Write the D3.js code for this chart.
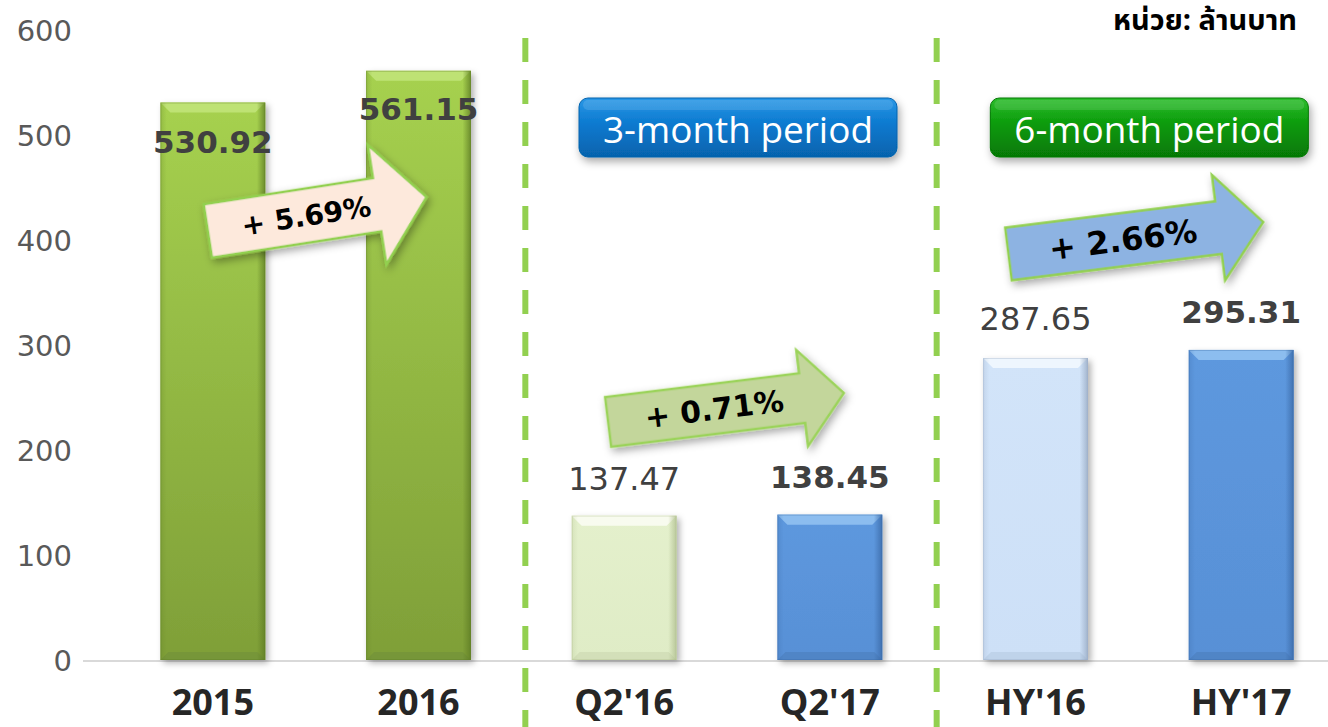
<!DOCTYPE html>
<html>
<head>
<meta charset="utf-8">
<script src="https://cdn.jsdelivr.net/npm/d3@7"></script>
<style>
  html, body { margin: 0; padding: 0; background: #fff; }
  svg { display: block; }
</style>
</head>
<body>
<svg id="chart" width="1328" height="727"></svg>
<script>
"use strict";
// chart values
const categories = ["2015", "2016", "Q2'16", "Q2'17", "HY'16", "HY'17"];
const values = [530.92, 561.15, 137.47, 138.45, 287.65, 295.31];
const valueLabels = ["530.92", "561.15", "137.47", "138.45", "287.65", "295.31"];
const boldLabel = [true, true, false, true, false, true];
const barTheme = ["green", "green", "lightGreen", "blue", "lightBlue", "blue"];
const yTicks = [0, 100, 200, 300, 400, 500, 600];
const groups = [["2015", "2016"], ["Q2'16", "Q2'17"], ["HY'16", "HY'17"]];
const growthLabels = ["+ 5.69%", "+ 0.71%", "+ 2.66%"];
// arrow tail / tip heights in value units
const growthFrom = [408.6, 226.7, 386.7];
const growthTo = [440.9, 254.3, 417.1];
const periodLabels = ["3-month period", "6-month period"];
const unitLabel = "หน่วย: ล้านบาท";

const themes = {
  green:      {top: "#a6d14f", bottom: "#7f9f38", bevel: "#c2e57a", dark: "#5f7d25", bevelBottom: "#74933a"},
  lightGreen: {top: "#e4f0cc", bottom: "#dfecc6", bevel: "#fbfdf5", dark: "#aebd8d", bevelBottom: "#cfdcb5"},
  blue:       {top: "#5d98de", bottom: "#5890d6", bevel: "#94c3f2", dark: "#3a69a6", bevelBottom: "#4f82c2"},
  lightBlue:  {top: "#d2e4f9", bottom: "#cde0f7", bevel: "#f3f9ff", dark: "#97a9c2", bevelBottom: "#bccfe6"}
};
const arrowStyle = [
  {fill: "#fde9dc", stroke: "#92d050", size: 28, shaft: 54, head: 121, headLen: 50},
  {fill: "#c3d69b", stroke: "#9bd35a", size: 30, shaft: 50, head: 97, headLen: 42},
  {fill: "#8db3e2", stroke: "#92d050", size: 32, shaft: 53, head: 106, headLen: 45}
];
const periodStyle = [
  {top: "#2a97e6", mid: "#0a79cf", bottom: "#0663ad"},
  {top: "#2cbd2c", mid: "#0a9a0a", bottom: "#067806"}
];

const svg = d3.select("#chart");
const W = 1328, H = 727;

const x = d3.scaleBand().domain(categories).range([110, 1344]).paddingInner(0.49).paddingOuter(0.245);
const y = d3.scaleLinear().domain([0, 600]).range([660, 30]);
const bw = x.bandwidth();
const cx = c => x(c) + bw / 2;

const defs = svg.append("defs");

const shadow = defs.append("filter").attr("id", "shadow").attr("x", "-20%").attr("y", "-20%").attr("width", "150%").attr("height", "150%");
shadow.append("feDropShadow").attr("dx", 3).attr("dy", 3).attr("stdDeviation", 3).attr("flood-color", "#000").attr("flood-opacity", 0.3);

const softShadow = defs.append("filter").attr("id", "softShadow").attr("x", "-20%").attr("y", "-30%").attr("width", "150%").attr("height", "180%");
softShadow.append("feDropShadow").attr("dx", 2).attr("dy", 4).attr("stdDeviation", 4).attr("flood-color", "#000").attr("flood-opacity", 0.35);

Object.entries(themes).forEach(([k, t]) => {
  const g = defs.append("linearGradient").attr("id", "body-" + k).attr("x1", 0).attr("y1", 0).attr("x2", 0).attr("y2", 1);
  g.append("stop").attr("offset", "0%").attr("stop-color", t.top);
  g.append("stop").attr("offset", "100%").attr("stop-color", t.bottom);
  const s = defs.append("linearGradient").attr("id", "side-" + k).attr("x1", 0).attr("y1", 0).attr("x2", 1).attr("y2", 0);
  s.append("stop").attr("offset", "0%").attr("stop-color", t.dark).attr("stop-opacity", 0.25);
  s.append("stop").attr("offset", "6%").attr("stop-color", t.dark).attr("stop-opacity", 0);
  s.append("stop").attr("offset", "92%").attr("stop-color", t.dark).attr("stop-opacity", 0);
  s.append("stop").attr("offset", "100%").attr("stop-color", t.dark).attr("stop-opacity", 0.8);
});

periodStyle.forEach((p, i) => {
  const g = defs.append("linearGradient").attr("id", "period" + i).attr("x1", 0).attr("y1", 0).attr("x2", 0).attr("y2", 1);
  g.append("stop").attr("offset", "0%").attr("stop-color", p.top);
  g.append("stop").attr("offset", "45%").attr("stop-color", p.mid);
  g.append("stop").attr("offset", "100%").attr("stop-color", p.bottom);
});

// baseline
svg.append("line")
  .attr("x1", 83).attr("x2", W).attr("y1", y(0) + 1).attr("y2", y(0) + 1)
  .attr("stroke", "#d9d9d9").attr("stroke-width", 2);

// y axis labels
const yAxis = d3.axisLeft(y).tickValues(yTicks).tickSize(0).tickPadding(0);
svg.append("g").attr("transform", "translate(72,0)").call(yAxis)
  .call(g => g.select(".domain").remove())
  .selectAll("text")
  .attr("font-family", "DejaVu Sans, Verdana, sans-serif")
  .attr("font-size", 29).attr("fill", "#595959").attr("dy", "0.35em");

// group separators
for (let i = 0; i < groups.length - 1; i++){
  const a = groups[i][1], b = groups[i + 1][0];
  const sx = (x(a) + bw + x(b)) / 2 + 4;
  svg.append("line")
    .attr("x1", sx).attr("x2", sx).attr("y1", 38).attr("y2", H)
    .attr("stroke", "#92d050").attr("stroke-width", 6).attr("stroke-dasharray", "24,18");
}

// bars with bevel
const bars = svg.append("g").selectAll("g.bar").data(categories).join("g").attr("class", "bar");
bars.each(function(c, i){
  const g = d3.select(this);
  const k = barTheme[i], t = themes[k];
  const x0 = x(c), x1 = x(c) + bw, yt = y(values[i]), yb = y(0);
  const b = 10, bb = 8;
  g.append("rect").attr("x", x0).attr("y", yt).attr("width", bw).attr("height", yb - yt)
    .attr("fill", `url(#body-${k})`).attr("filter", "url(#shadow)");
  g.append("polygon")
    .attr("points", [[x0, yt], [x1, yt], [x1 - b, yt + b], [x0 + b, yt + b]].join(" "))
    .attr("fill", t.bevel).attr("opacity", 0.85);
  g.append("polygon")
    .attr("points", [[x0, yb], [x1, yb], [x1 - bb, yb - bb], [x0 + bb, yb - bb]].join(" "))
    .attr("fill", t.bevelBottom).attr("opacity", 0.8);
  g.append("rect").attr("x", x0).attr("y", yt).attr("width", bw).attr("height", yb - yt)
    .attr("fill", `url(#side-${k})`);
  g.append("rect").attr("x", x0 + 0.5).attr("y", yt + 0.5).attr("width", bw - 1).attr("height", yb - yt - 1)
    .attr("fill", "none").attr("stroke", t.dark).attr("stroke-opacity", 0.35).attr("stroke-width", 1);
});

// value labels
const labelOffset = [-50, -49, 26, 27, 28, 27];
svg.append("g").selectAll("text").data(categories).join("text")
  .attr("x", c => cx(c))
  .attr("y", (c, i) => y(values[i]) - labelOffset[i])
  .attr("text-anchor", "middle")
  .attr("font-family", "DejaVu Sans, Verdana, sans-serif")
  .attr("font-size", (c, i) => boldLabel[i] ? 31 : 32)
  .attr("font-weight", (c, i) => boldLabel[i] ? "bold" : "normal")
  .attr("fill", "#404040")
  .text((c, i) => valueLabels[i]);

// category labels
svg.append("g").selectAll("text").data(categories).join("text")
  .attr("x", c => cx(c))
  .attr("y", 715)
  .attr("text-anchor", "middle")
  .attr("font-family", "Open Sans, sans-serif")
  .attr("font-size", 36).attr("font-weight", "bold")
  .attr("fill", "#262626")
  .text(c => c);

// period boxes
periodLabels.forEach((txt, i) => {
  const pair = groups[i + 1];
  const mid = (cx(pair[0]) + cx(pair[1])) / 2 + 11;
  const bwBox = 318, bh = 59, by = 98;
  svg.append("rect")
    .attr("x", mid - bwBox / 2).attr("y", by).attr("width", bwBox).attr("height", bh).attr("rx", 9)
    .attr("fill", `url(#period${i})`).attr("stroke", periodStyle[i].bottom).attr("stroke-width", 1)
    .attr("filter", "url(#softShadow)");
  svg.append("rect")
    .attr("x", mid - bwBox / 2 + 4).attr("y", by + 2).attr("width", bwBox - 8).attr("height", 10).attr("rx", 5)
    .attr("fill", "#fff").attr("opacity", 0.12);
  svg.append("text")
    .attr("x", mid).attr("y", by + 45)
    .attr("text-anchor", "middle")
    .attr("font-family", "Open Sans, sans-serif")
    .attr("font-size", 37)
    .attr("fill", "#fff")
    .attr("textLength", 270).attr("lengthAdjust", "spacingAndGlyphs")
    .text(txt);
});

// growth arrows
groups.forEach((pair, i) => {
  const st = arrowStyle[i];
  const x0 = cx(pair[0]) + [-5, -16, -27][i];
  const x1 = cx(pair[1]) + [8, 14, 22][i];
  const y0 = y(growthFrom[i]), y1 = y(growthTo[i]);
  const len = Math.hypot(x1 - x0, y1 - y0);
  const ang = Math.atan2(y1 - y0, x1 - x0) * 180 / Math.PI;
  const s = st.shaft / 2, h = st.head / 2, L = len, hl = st.headLen;
  const path = `M0,${-s} L${L - hl},${-s} L${L - hl},${-h} L${L},0 L${L - hl},${h} L${L - hl},${s} L0,${s} Z`;
  const g = svg.append("g").attr("transform", `translate(${x0},${y0}) rotate(${ang})`);
  g.append("path").attr("d", path)
    .attr("fill", st.fill).attr("stroke", st.stroke).attr("stroke-width", 2.5)
    .attr("stroke-linejoin", "miter")
    .attr("filter", "url(#softShadow)");
  g.append("text")
    .attr("x", L * 0.45).attr("y", 0).attr("dy", "0.36em")
    .attr("text-anchor", "middle")
    .attr("font-family", "DejaVu Sans, Verdana, sans-serif")
    .attr("font-weight", "bold").attr("font-size", st.size)
    .attr("fill", "#000")
    .text(growthLabels[i]);
});

// unit label
svg.append("text")
  .attr("x", 1297).attr("y", 30)
  .attr("text-anchor", "end")
  .attr("font-family", "Noto Sans Thai, Noto Sans, Tahoma, sans-serif")
  .attr("font-weight", "bold").attr("font-size", 29)
  .attr("fill", "#000")
  .text(unitLabel);
</script>
</body>
</html>
